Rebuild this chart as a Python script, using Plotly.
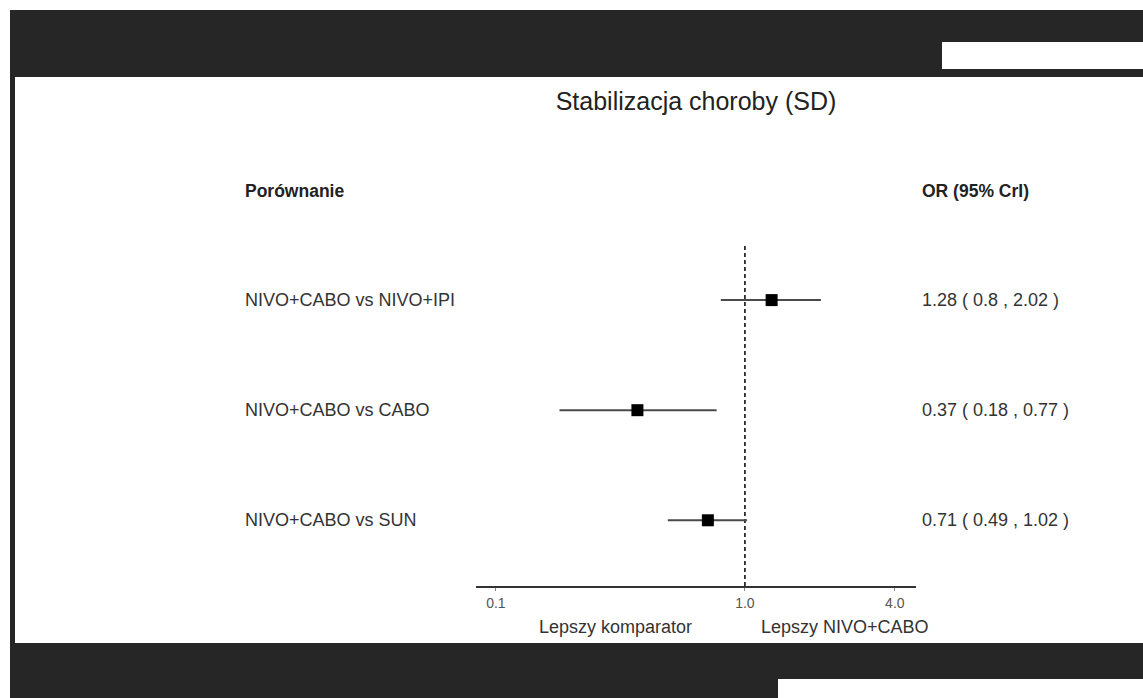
import plotly.graph_objects as go

# ---- data ----
comparisons = ["NIVO+CABO vs NIVO+IPI", "NIVO+CABO vs CABO", "NIVO+CABO vs SUN"]
or_values = [1.28, 0.37, 0.71]
ci_lower = [0.8, 0.18, 0.49]
ci_upper = [2.02, 0.77, 1.02]
tick_values = [0.1, 1.0, 4.0]
tick_labels = ["0.1", "1.0", "4.0"]
title_text = "Stabilizacja choroby (SD)"
left_header = "Porównanie"
right_header = "OR (95% CrI)"
left_note = "Lepszy komparator"
right_note = "Lepszy NIVO+CABO"

W, H = 1143, 698
ML, MR, MT, MB = 476, 227, 168, 112
PW, PH = W - ML - MR, H - MT - MB

def px_x(p):
    return (p - ML) / PW

def px_y(p):
    return (H - MB - p) / PH

FONT = "Liberation Sans, Arial, sans-serif"
rows = [3, 2, 1]

fig = go.Figure()

# reference line at OR = 1
fig.add_trace(go.Scatter(x=[1, 1], y=[0.403, 3.5], mode="lines",
                         line=dict(color="#111111", width=1.6, dash="4px,3px"),
                         hoverinfo="skip", showlegend=False))

# credible intervals
ci_x, ci_y = [], []
for lo, hi, r in zip(ci_lower, ci_upper, rows):
    ci_x += [lo, hi, None]
    ci_y += [r, r, None]
fig.add_trace(go.Scatter(x=ci_x, y=ci_y, mode="lines",
                         line=dict(color="#4a4a4a", width=2),
                         hoverinfo="skip", showlegend=False))

# point estimates
fig.add_trace(go.Scatter(x=or_values, y=rows, mode="markers",
                         marker=dict(symbol="square", size=12, color="#000000"),
                         showlegend=False))

annotations = []
# headers
annotations.append(dict(x=px_x(243), y=3.99, xref="paper", yref="y", text="<b>" + left_header + "</b>",
                        showarrow=False, xanchor="left", yanchor="middle",
                        font=dict(family=FONT, size=17.5, color="#222222")))
annotations.append(dict(x=px_x(920), y=3.99, xref="paper", yref="y", text="<b>" + right_header + "</b>",
                        showarrow=False, xanchor="left", yanchor="middle",
                        font=dict(family=FONT, size=17.5, color="#222222")))
for name, v, lo, hi, r in zip(comparisons, or_values, ci_lower, ci_upper, rows):
    annotations.append(dict(x=px_x(243), y=r, xref="paper", yref="y", text=name,
                            showarrow=False, xanchor="left", yanchor="middle",
                            font=dict(family=FONT, size=18, color="#333333")))
    annotations.append(dict(x=px_x(920), y=r, xref="paper", yref="y",
                            text=f"{v:g} ( {lo:g} , {hi:g} )",
                            showarrow=False, xanchor="left", yanchor="middle",
                            font=dict(family=FONT, size=18, color="#333333")))
annotations.append(dict(x=px_x(615), y=px_y(627), xref="paper", yref="paper", text=left_note,
                        showarrow=False, xanchor="center", yanchor="middle",
                        font=dict(family=FONT, size=18, color="#333333")))
annotations.append(dict(x=px_x(845), y=px_y(627), xref="paper", yref="paper", text=right_note,
                        showarrow=False, xanchor="center", yanchor="middle",
                        font=dict(family=FONT, size=18, color="#333333")))

DARK = "#262626"
def rect(x0, y0, x1, y1, color):
    return dict(type="rect", xref="paper", yref="paper",
                x0=px_x(x0), x1=px_x(x1), y0=px_y(y0), y1=px_y(y1),
                fillcolor=color, line=dict(width=0), layer="above")

shapes = [
    rect(10, 10, W + 2, 77, DARK),
    rect(942, 42, W + 2, 69, "#ffffff"),
    rect(10, 77, 15, 643, DARK),
    rect(10, 643, W + 2, H + 2, DARK),
    rect(778, 679, W + 2, H + 2, "#ffffff"),
]

fig.update_layout(
    width=W, height=H,
    margin=dict(l=ML, r=MR, t=MT, b=MB, pad=0),
    paper_bgcolor="#ffffff", plot_bgcolor="#ffffff",
    title=dict(text=title_text, x=696 / W, y=1 - 101 / H, xref="container", yref="container",
               xanchor="center", yanchor="middle",
               font=dict(family=FONT, size=25, color="#222222")),
    xaxis=dict(type="log", range=[-1.08, 0.687], tickvals=tick_values, ticktext=tick_labels,
               showgrid=False, zeroline=False, showline=True, linecolor="#333333", linewidth=2,
               ticks="outside", ticklen=3, tickcolor="#888888", tickwidth=1,
               tickfont=dict(family=FONT, size=14, color="#555555")),
    yaxis=dict(range=[0.403, 4.2], visible=False, fixedrange=True),
    annotations=annotations,
    shapes=shapes,
    showlegend=False,
)

fig.write_html("out.html")
